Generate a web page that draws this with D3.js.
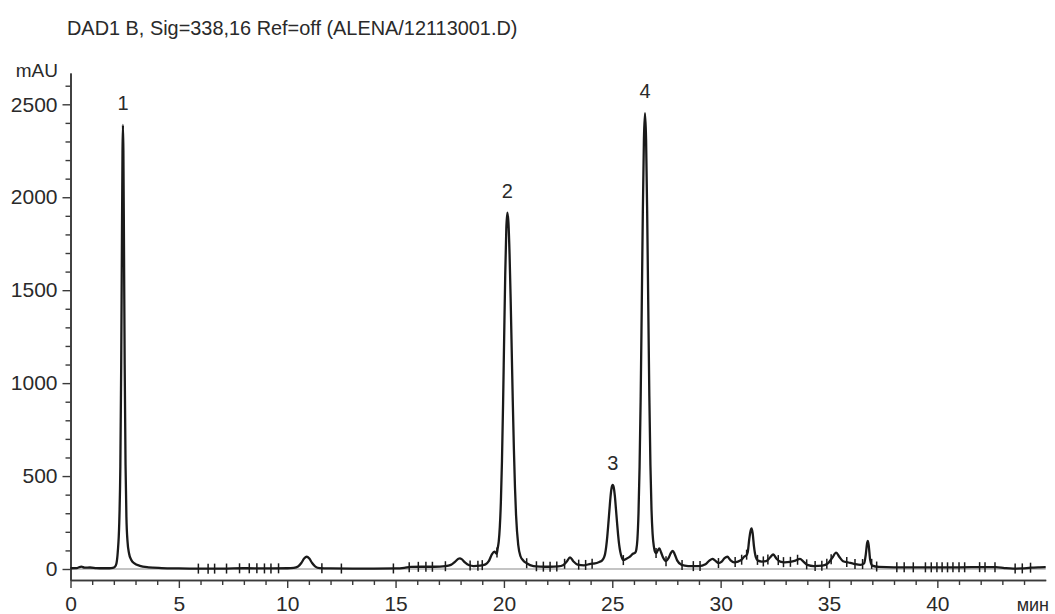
<!DOCTYPE html>
<html>
<head>
<meta charset="utf-8">
<script src="https://cdn.jsdelivr.net/npm/d3@7"></script>
<style>
  html, body { margin: 0; padding: 0; background: #fff; }
  svg text { font-family: "Liberation Sans", Arial, Helvetica, sans-serif; fill: #2a2a2a; }
</style>
</head>
<body>
<svg id="chart" width="1055" height="614"></svg>
<script>
// ---- data ----
const titleText = "DAD1 B, Sig=338,16 Ref=off (ALENA/12113001.D)";
const yUnit = "mAU";
const xUnit = "мин";

const xMajorTicks = [0, 5, 10, 15, 20, 25, 30, 35, 40];
const yMajorTicks = [0, 500, 1000, 1500, 2000, 2500];

// chromatogram trace: retention time (min) and absorbance (mAU)
const traceMin = [
  0, 0.3, 0.5, 0.65, 0.9, 1.2, 1.5, 1.8, 1.95, 2.05, 2.12, 2.18, 2.25, 2.3, 2.34, 2.37, 2.4, 2.42,
  2.44, 2.47, 2.5, 2.54, 2.58, 2.63, 2.7, 2.8, 2.95, 3.2, 3.6, 4.2, 5.0, 6.0, 7.0, 8.0, 9.0, 10.0,
  10.3, 10.5, 10.65, 10.78, 10.9, 11.02, 11.15, 11.3, 11.5, 12.0, 13.0, 14.0, 15.0, 15.4, 15.7,
  16.2, 16.8, 17.3, 17.55, 17.75, 17.9, 17.97, 18.05, 18.2, 18.4, 18.6, 18.9, 19.15, 19.3, 19.45,
  19.56, 19.67, 19.71, 19.76, 19.81, 19.86, 19.91, 19.96, 20.01, 20.06, 20.11, 20.16, 20.21, 20.26,
  20.31, 20.36, 20.41, 20.46, 20.51, 20.56, 20.66, 20.76, 20.9, 21.05, 21.36, 21.7, 22.1, 22.5,
  22.75, 22.9, 23.05, 23.2, 23.4, 23.7, 24.0, 24.2, 24.4, 24.52, 24.62, 24.67, 24.72, 24.77, 24.82,
  24.87, 24.92, 24.97, 25.02, 25.07, 25.12, 25.17, 25.22, 25.27, 25.32, 25.37, 25.43, 25.51, 25.65,
  25.8, 25.95, 26.06, 26.11, 26.16, 26.21, 26.26, 26.31, 26.36, 26.41, 26.46, 26.51, 26.56, 26.61,
  26.66, 26.71, 26.76, 26.81, 26.86, 26.92, 26.98, 27.03, 27.1, 27.17, 27.25, 27.35, 27.48, 27.6,
  27.7, 27.79, 27.88, 28.0, 28.2, 28.5, 29.0, 29.3, 29.48, 29.62, 29.75, 29.9, 30.05, 30.18, 30.31,
  30.45, 30.62, 30.8, 30.97, 31.1, 31.18, 31.25, 31.32, 31.38, 31.43, 31.48, 31.54, 31.62, 31.72,
  31.9, 32.1, 32.28, 32.43, 32.58, 32.75, 32.95, 33.2, 33.45, 33.66, 33.82, 34.0, 34.3, 34.7, 34.95,
  35.15, 35.33, 35.48, 35.65, 35.9, 36.15, 36.45, 36.62, 36.7, 36.76, 36.79, 36.83, 36.9, 37.0,
  37.3, 38, 39, 40, 41, 42, 42.7, 43.1, 43.5, 43.9, 44.3, 44.7, 45
];
const traceMAU = [
  4, 5, 13, 7, 8, 5, 4, 4, 6, 12, 30, 90, 250, 550, 1100, 1700, 2250, 2389,
  2250, 1700, 1100, 560, 280, 150, 85, 50, 30, 17, 9, 5, 3, 2, 2, 4, 3, 4,
  6, 13, 32, 56, 66, 56, 32, 13, 5, 3, 2, 2, 3, 6, 11,
  12, 12, 15, 22, 40, 55, 57, 53, 35, 20, 16, 18, 25, 42, 80,
  93, 82, 110, 147, 225, 362, 581, 883, 1238, 1581, 1831, 1917, 1860, 1695,
  1455, 1175, 895, 645, 440, 290, 130, 70, 45, 31, 16, 13, 12, 14,
  22, 40, 63, 42, 24, 20, 28, 30, 38, 45, 62, 82, 120, 175, 245,
  320, 390, 437, 452, 437, 392, 322, 250, 182, 128, 92, 65, 48, 55,
  65, 82, 88, 105, 160, 300, 550, 920, 1410, 1920, 2310, 2453, 2310, 1920,
  1420, 930, 560, 320, 190, 120, 90, 85, 100, 111, 90, 60, 42, 60,
  85, 98, 80, 45, 22, 16, 15, 25, 45, 55, 45, 32, 40, 58, 66,
  48, 36, 40, 50, 68, 72, 90, 160, 205, 219, 190, 120, 65, 45,
  40, 42, 62, 78, 55, 40, 36, 38, 45, 55, 40, 22, 16, 18, 30,
  60, 88, 65, 42, 35, 28, 22, 30, 80, 140, 151, 130, 50, 18,
  11, 9, 9, 9, 9, 10, 10, 5, 2, 3, 7, 9, 10
];

// integration event marks (min)
const eventMarks = [
  5.9, 6.35, 6.65, 7.2, 7.8, 8.25, 8.6, 8.95, 9.25, 9.6, 11.6, 12.5, 14.9, 15.63, 16.05, 16.4,
  16.7, 17.3, 18.44, 18.8, 19.0, 19.68, 21.05, 21.5, 21.82, 22.13, 22.44, 22.8, 23.45, 23.77,
  24.07, 25.51, 27.02, 27.48, 28.22, 28.74, 29.05, 29.9, 30.67, 30.97, 31.2, 31.7, 31.97, 32.18,
  32.66, 32.9, 33.22, 33.55, 33.97, 34.36, 34.67, 34.9, 35.1, 35.82, 36.2, 36.55, 36.97, 37.2,
  38.13, 38.47, 38.89, 39.45, 39.72, 39.98, 40.22, 40.47, 40.72, 41.0, 41.26, 41.95, 42.2, 42.66,
  43.59, 43.92, 44.3
];

// numbered peaks
const peakNames = ["1", "2", "3", "4"];
const peakTimes = [2.42, 20.16, 25.02, 26.51];
const peakHeights = [2389, 1917, 452, 2453];

// ---- drawing ----
const svg = d3.select("#chart");
const axisColor = "#3a3a3a";

const x = d3.scaleLinear().domain([0, 45]).range([70.5, 1045.7]);
const y0 = d3.scaleLinear().domain([0, 2500]).range([569, 104.3]);
const y = d3.scaleLinear().domain([y0.invert(580), y0.invert(73)]).range([580, 73]);

// title
svg.append("text").attr("x", 67).attr("y", 35)
  .attr("font-size", 19.9).text(titleText);

// baseline (0 mAU)
svg.append("line")
  .attr("x1", x(0)).attr("x2", x(45))
  .attr("y1", y(0)).attr("y2", y(0))
  .attr("stroke", "#8a8a8a").attr("stroke-width", 1.2);

// y axis
const yMinor = d3.range(0, 2700, 100).filter(v => v % 500 !== 0 && v <= y.domain()[1]);
const gy = svg.append("g").attr("transform", `translate(${x(0)},0)`);
gy.call(d3.axisLeft(y).tickValues(yMinor).tickSize(5).tickSizeOuter(0).tickFormat(""));
const gy2 = svg.append("g").attr("transform", `translate(${x(0)},0)`);
gy2.call(d3.axisLeft(y).tickValues(yMajorTicks).tickSize(8).tickSizeOuter(0).tickPadding(5).tickFormat(d3.format("d")));
[gy, gy2].forEach(g => {
  g.selectAll("path.domain").attr("stroke", axisColor).attr("stroke-width", 1.6);
  g.selectAll(".tick line").attr("stroke", axisColor).attr("stroke-width", 1.4);
});
gy2.selectAll(".tick text").attr("font-size", 21).attr("fill", "#2a2a2a")
  .attr("font-family", "Liberation Sans, Arial, sans-serif");

svg.append("text").attr("x", 58).attr("y", 77).attr("text-anchor", "end")
  .attr("font-size", 19).text(yUnit);

// x axis
const xMinor = d3.range(0, 45, 1).filter(v => v % 5 !== 0);
const gx = svg.append("g").attr("transform", `translate(0,580)`);
gx.call(d3.axisBottom(x).tickValues(xMinor).tickSize(5).tickSizeOuter(0).tickFormat(""));
const gx2 = svg.append("g").attr("transform", `translate(0,580)`);
gx2.call(d3.axisBottom(x).tickValues(xMajorTicks).tickSize(8).tickSizeOuter(0).tickPadding(8).tickFormat(d3.format("d")));
[gx, gx2].forEach(g => {
  g.selectAll("path.domain").attr("stroke", axisColor).attr("stroke-width", 1.6);
  g.selectAll(".tick line").attr("stroke", axisColor).attr("stroke-width", 1.4);
});
gx2.selectAll(".tick text").attr("font-size", 21).attr("fill", "#2a2a2a")
  .attr("font-family", "Liberation Sans, Arial, sans-serif");

svg.append("text").attr("x", 1049).attr("y", 611).attr("text-anchor", "end")
  .attr("font-size", 18).text(xUnit);

// trace
const pts = traceMin.map((t, i) => [t, traceMAU[i]]);
const line = d3.line().x(d => x(d[0])).y(d => y(d[1])).curve(d3.curveMonotoneX);
svg.append("path").datum(pts).attr("d", line)
  .attr("fill", "none").attr("stroke", "#1a1a1a").attr("stroke-width", 2.3)
  .attr("stroke-linejoin", "round");

// event marks on the trace
const bis = d3.bisector(d => d[0]).left;
function valueAt(t) {
  const i = Math.max(1, Math.min(pts.length - 1, bis(pts, t)));
  const a = pts[i - 1], b = pts[i];
  const f = (t - a[0]) / (b[0] - a[0]);
  return a[1] + f * (b[1] - a[1]);
}
svg.append("g").selectAll("line").data(eventMarks).join("line")
  .attr("x1", d => x(d)).attr("x2", d => x(d))
  .attr("y1", d => y(valueAt(d)) - 5).attr("y2", d => y(valueAt(d)) + 5)
  .attr("stroke", "#1a1a1a").attr("stroke-width", 1.5);

// peak numbers
svg.append("g").selectAll("text").data(peakNames).join("text")
  .attr("x", (d, i) => x(peakTimes[i]))
  .attr("y", (d, i) => y(peakHeights[i]) - 15)
  .attr("text-anchor", "middle").attr("font-size", 20)
  .text(d => d);
</script>
</body>
</html>
